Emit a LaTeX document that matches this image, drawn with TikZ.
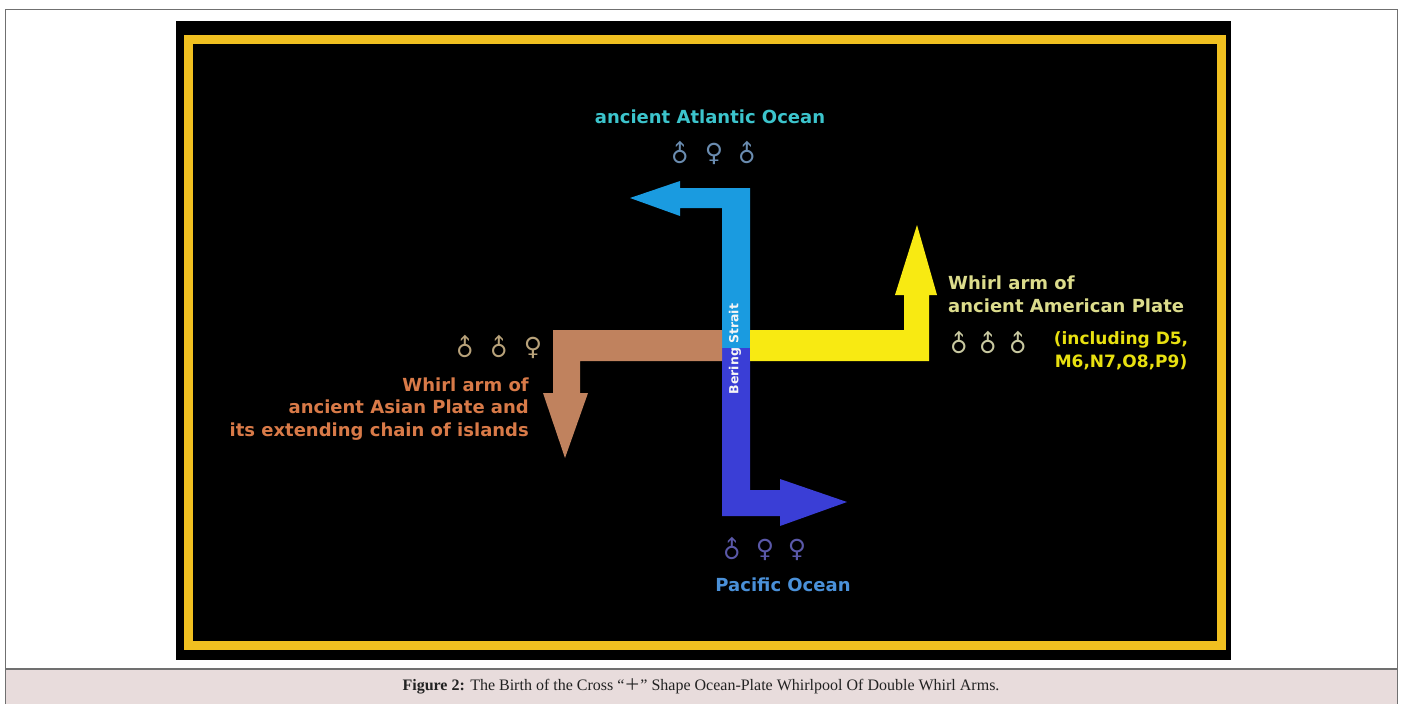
\documentclass[tikz,border=0pt]{standalone}
\usepackage{fontspec}
\setmainfont{Liberation Sans}
\newfontfamily\capfont{Liberation Serif}
\newfontfamily\symfont{DejaVu Sans}
\newfontfamily\lblfont{DejaVu Sans}
\newfontfamily\cjk{Noto Sans CJK SC}
\definecolor{framegray}{HTML}{707070}
\definecolor{capbg}{HTML}{E8DCDC}
\definecolor{frameyel}{HTML}{F0C020}
\definecolor{lightblue}{HTML}{1A9BE0}
\definecolor{darkblue}{HTML}{3A3ED6}
\definecolor{armyel}{HTML}{F8EA12}
\definecolor{armbrown}{HTML}{C0825E}
\definecolor{atltext}{HTML}{3CC4CC}
\definecolor{atlsym}{HTML}{6A8CB0}
\definecolor{asiantext}{HTML}{D87A48}
\definecolor{asiansym}{HTML}{B8A27A}
\definecolor{amertext}{HTML}{DCDC8C}
\definecolor{amersym}{HTML}{C8C8A0}
\definecolor{incltext}{HTML}{E8E010}
\definecolor{pacsym}{HTML}{5A58A8}
\definecolor{pactext}{HTML}{4A90D8}
\definecolor{captext}{HTML}{222222}
\tikzset{
  lbl/.style={inner sep=0pt, font=\lblfont\bfseries\fontsize{18}{22.5}\selectfont},
  incl/.style={inner sep=0pt, anchor=base, text=incltext, font=\lblfont\bfseries\fontsize{17}{20}\selectfont},
  malesym/.style={inner sep=0pt, rotate=45, font=\symfont\fontsize{24}{24}\selectfont},
  femsym/.style={inner sep=0pt, font=\symfont\fontsize{25}{25}\selectfont},
}
\begin{document}
\begin{tikzpicture}[x=1pt,y=-1pt]
\useasboundingbox (0,0) rectangle (1402,704);
\fill[white] (0,0) rectangle (1402,704);
% caption area
\fill[capbg] (5.5,669) rectangle (1397.5,704);
\draw[framegray, line width=1.5pt] (5.5,704) -- (5.5,9.5) -- (1397.5,9.5) -- (1397.5,704);
\draw[framegray, line width=1.5pt] (5.5,669) -- (1397.5,669);
\node[inner sep=0pt, text=captext, font=\capfont\fontsize{16}{18}\selectfont] (cap) at (701,686)
  {\textbf{Figure 2:} The Birth of the Cross “{\cjk ＋}” Shape Ocean-Plate Whirlpool Of Double Whirl Arms.};
% black image and yellow frame
\fill[black] (176,21) rectangle (1231,660);
\draw[frameyel, line width=9pt] (188,39) rectangle (1221,645);
% top (light blue) arrow
\fill[lightblue] (722,349) -- (722,208) -- (680,208) -- (680,216) -- (630,198) -- (680,181) -- (680,188) -- (750,188) -- (750,349) -- cycle;
% bottom (dark blue) arrow
\fill[darkblue] (722,348) -- (722,516) -- (780,516) -- (780,526) -- (847,502) -- (780,479) -- (780,490) -- (750,490) -- (750,348) -- cycle;
% yellow arrow
\fill[armyel] (750,330) -- (750,361) -- (929,361) -- (929,295) -- (937,295) -- (917,225) -- (895,295) -- (904,295) -- (904,330) -- cycle;
% brown arrow
\fill[armbrown] (722,330) -- (553,330) -- (553,393) -- (543,393) -- (565,458) -- (588,393) -- (580,393) -- (580,361) -- (722,361) -- cycle;
% Bering Strait
\node[inner sep=0pt, rotate=90, text=white!92!gray, font=\lblfont\bfseries\fontsize{12.5}{14}\selectfont] (bering) at (735,349) {Bering Strait};
% top labels
\node[lbl, text=atltext] (atl) at (710,117) {ancient Atlantic Ocean};
\node[malesym, text=atlsym] (a1) at (680,154) {♂};
\node[femsym, text=atlsym] (a2) at (714,154) {♀};
\node[malesym, text=atlsym] (a3) at (747,154) {♂};
% left labels
\node[malesym, text=asiansym] (s1) at (465,348) {♂};
\node[malesym, text=asiansym] (s2) at (499,348) {♂};
\node[femsym, text=asiansym] (s3) at (533,348) {♀};
\node[lbl, anchor=east, align=right, text=asiantext] (asian) at (529,409) {Whirl arm of\\ancient Asian Plate and\\its extending chain of islands};
% right labels
\node[lbl, anchor=west, align=left, text=amertext, font=\lblfont\bfseries\fontsize{18}{23}\selectfont] (amer) at (948,294) {Whirl arm of\\ancient American Plate};
\node[malesym, text=amersym] (m1) at (959,344) {♂};
\node[malesym, text=amersym] (m2) at (988,344) {♂};
\node[malesym, text=amersym] (m3) at (1018,344) {♂};
\node[incl] (incla) at (1121,344) {(including D5,};
\node[incl] (inclb) at (1121,367) {M6,N7,O8,P9)};
% bottom labels
\node[malesym, text=pacsym] (p1) at (732,550) {♂};
\node[femsym, text=pacsym] (p2) at (765,550) {♀};
\node[femsym, text=pacsym] (p3) at (797,550) {♀};
\node[lbl, text=pactext] (pac) at (783,585) {Pacific Ocean};
\end{tikzpicture}
\end{document}
